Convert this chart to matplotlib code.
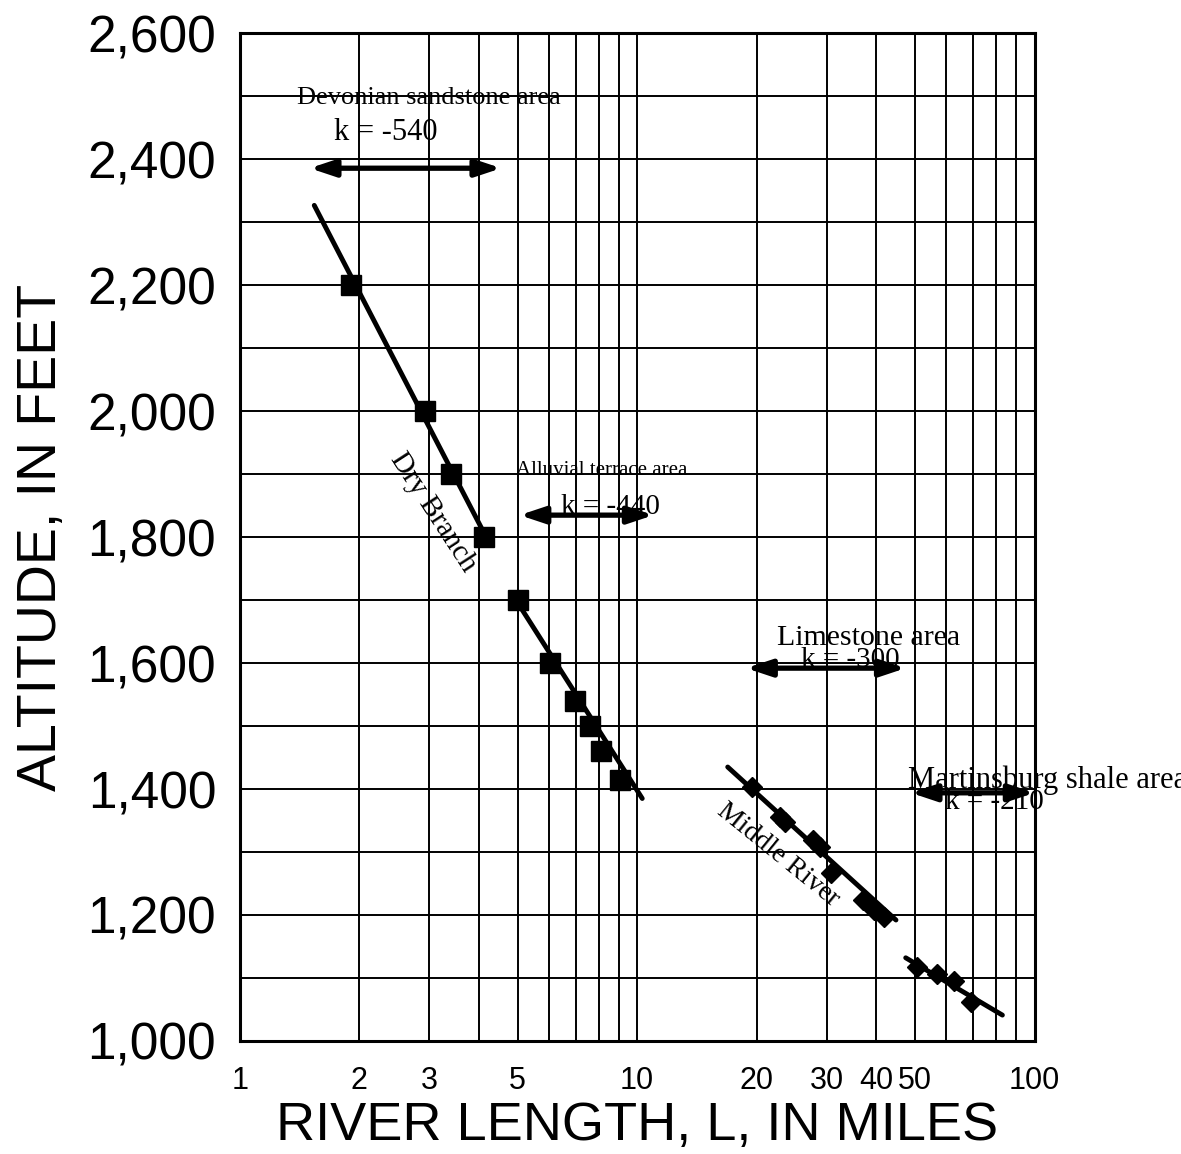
import numpy as np
import matplotlib
matplotlib.use("Agg")
import matplotlib.pyplot as plt
from matplotlib.ticker import FixedLocator, NullFormatter, FixedFormatter

# Dry Branch (squares)
dry_len = [1.9, 2.92, 3.4, 4.12, 5.0, 6.02, 6.97, 7.6, 8.1, 9.06]
dry_alt = [2200, 2000, 1900, 1800, 1700, 1600, 1540, 1500, 1460, 1415]

# Middle River (diamonds)
mid_len = [19.5, 22.9, 23.5, 27.7, 28.9, 30.8, 37.1, 39.4, 41.7]
mid_alt = [1403, 1356, 1348, 1319, 1308, 1267, 1224, 1208, 1197]
mart_len = [50.6, 56.8, 62.7, 69.2]
mart_alt = [1118, 1106, 1095, 1062]

# fitted lines (end points)
fit_lines = [
    ([1.54, 4.25], [2327, 1790]),
    ([4.9, 10.3], [1705, 1385]),
    ([16.9, 44.8], [1435, 1192]),
    ([47.4, 83.0], [1132, 1041]),
]

# double arrows: (x start, x end, altitude)
arrows = [
    (1.5, 4.55, 2386),
    (5.06, 11.0, 1835),
    (18.8, 47.4, 1592),
    (48.8, 100.0, 1394),
]

xtick_vals = [1, 2, 3, 5, 10, 20, 30, 40, 50, 100]
ytick_vals = [1000, 1200, 1400, 1600, 1800, 2000, 2200, 2400, 2600]

fig = plt.figure(figsize=(11.81, 11.54), dpi=100)
ax = fig.add_axes([0.203, 0.098, 0.673, 0.873])

ax.set_xscale("log")
ax.set_xlim(1, 100)
ax.set_ylim(1000, 2600)

# grid
grid_x = [m * 10 ** d for d in range(0, 2) for m in range(1, 10)] + [100]
for gx in grid_x:
    ax.axvline(gx, color="black", lw=1.4, zorder=1)
for gy in range(1000, 2601, 100):
    ax.axhline(gy, color="black", lw=1.4, zorder=1)

for lx, ly in fit_lines:
    ax.plot(lx, ly, color="black", lw=3.5, solid_capstyle="round", zorder=3)

ax.plot(dry_len, dry_alt, ls="none", marker="s", ms=15, color="black", zorder=4)
ax.plot(mid_len, mid_alt, ls="none", marker="D", ms=10, color="black", zorder=4)
ax.plot(mart_len, mart_alt, ls="none", marker="D", ms=10, color="black", zorder=4)

for x0, x1, yy in arrows:
    ax.annotate("", xy=(x1, yy), xytext=(x0, yy),
                arrowprops=dict(arrowstyle="<|-|>,head_length=1.5,head_width=0.5",
                                color="black", lw=3.8, shrinkA=0, shrinkB=0),
                zorder=5, annotation_clip=False)

serif = ["Liberation Serif", "DejaVu Serif"]
ax.text(2.99, 2497, "Devonian sandstone area", family=serif, fontsize=19,
        ha="center", va="center", zorder=6)
ax.text(2.33, 2443, "k = -540", family=serif, fontsize=22, ha="center", va="center", zorder=6)
ax.text(8.15, 1906, "Alluvial terrace area", family=serif, fontsize=15,
        ha="center", va="center", zorder=6)
ax.text(8.55, 1848, "k = -440", family=serif, fontsize=21, ha="center", va="center", zorder=6)
ax.text(38.2, 1640, "Limestone area", family=serif, fontsize=21.5, ha="center", va="center", zorder=6)
ax.text(34.4, 1605, "k = -300", family=serif, fontsize=21, ha="center", va="center", zorder=6)
ax.text(48.0, 1414, "Martinsburg shale area", family=serif, fontsize=22,
        ha="left", va="center", zorder=6, clip_on=False)
ax.text(79.3, 1379, "k = -210", family=serif, fontsize=21, ha="center", va="center", zorder=6)
ax.text(3.06, 1840, "Dry Branch", family=serif, fontsize=21, rotation=-57,
        ha="center", va="center", rotation_mode="anchor", zorder=6)
ax.text(22.6, 1295, "Middle River", family=serif, fontsize=20, rotation=-39,
        ha="center", va="center", rotation_mode="anchor", zorder=6)

sans = ["Liberation Sans", "DejaVu Sans"]
ax.xaxis.set_major_locator(FixedLocator(xtick_vals))
ax.xaxis.set_major_formatter(FixedFormatter([str(v) for v in xtick_vals]))
ax.xaxis.set_minor_formatter(NullFormatter())
ax.xaxis.set_minor_locator(FixedLocator([]))
ax.set_yticks(ytick_vals)
ax.set_yticklabels([f"{v:,}" for v in ytick_vals])
ax.tick_params(axis="both", length=0)
ax.tick_params(axis="x", pad=18)
ax.tick_params(axis="y", pad=17)
for lbl in ax.get_xticklabels():
    lbl.set_family(sans)
    lbl.set_fontsize(22)
for lbl in ax.get_yticklabels():
    lbl.set_family(sans)
    lbl.set_fontsize(37)

ax.set_xlabel("RIVER LENGTH, L, IN MILES", family=sans, fontsize=39, labelpad=4)
ax.set_ylabel("ALTITUDE, IN FEET", family=sans, fontsize=40, labelpad=14)

for s in ax.spines.values():
    s.set_linewidth(2.2)
    s.set_zorder(7)

fig.savefig("out.png", dpi=100)
